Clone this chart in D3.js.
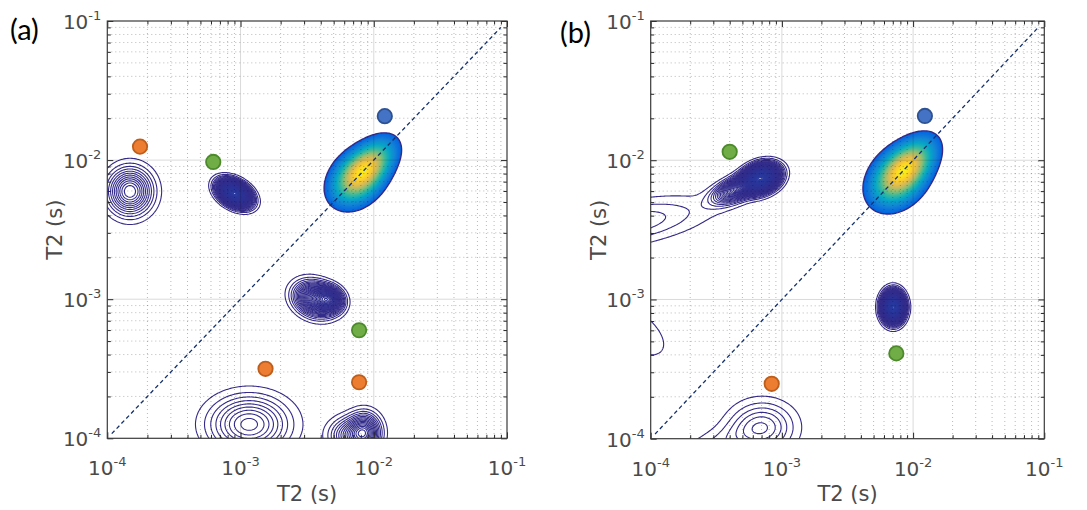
<!DOCTYPE html>
<html><head><meta charset="utf-8">
<script src="https://cdn.jsdelivr.net/npm/d3@7"></script>
<style>body{margin:0;background:#fff} svg{display:block}</style>
</head><body>
<svg id="c" width="1087" height="510"></svg>
<script>
// ---------------- data ----------------
const panelLabels = ["(a)", "(b)"];
const axisTitle = "T2 (s)";
const decadeTicks = [1e-4, 1e-3, 1e-2, 1e-1];
const tickExponents = ["-4", "-3", "-2", "-1"];
const diagonalEnds = [1.08e-4, 9e-2];

// markers: [T2 x, T2 y, colour key]
const markersA = [[1.76e-4, 1.25e-2, "orange"], [6.24e-4, 9.7e-3, "green"], [1.21e-2, 2.07e-2, "blue"],
                  [7.76e-3, 5.98e-4, "green"], [1.54e-3, 3.16e-4, "orange"], [7.76e-3, 2.53e-4, "orange"]];
const markersB = [[4.0e-4, 1.15e-2, "green"], [1.23e-2, 2.08e-2, "blue"],
                  [7.45e-3, 4.1e-4, "green"], [8.36e-4, 2.48e-4, "orange"]];

// peaks: [log10 x, log10 y, sigma major, sigma minor (decades), angle (deg), amplitude]
const mainPeakA = [
  [-2.125, -2.135, 0.120, 0.090, 42, 0.50],
  [-2.040, -2.040, 0.128, 0.074, 42, 0.56]
];
const otherPeaksA = [
  [-3.045, -2.24, 0.073, 0.045, -28, 0.060],
  [-2.44, -3.00, 0.095, 0.070, -20, 0.020],
  [-2.33, -3.00, 0.060, 0.050, -20, 0.018],
  [-3.83, -2.225, 0.105, 0.105, 0, 0.013],
  [-2.935, -3.90, 0.190, 0.130, 0, 0.0095],
  [-2.07, -3.96, 0.075, 0.085, 0, 0.014],
  [-2.20, -3.98, 0.090, 0.080, 0, 0.007]
];
const mainPeakB = [
  [-2.115, -2.13, 0.130, 0.097, 42, 0.50],
  [-2.035, -2.035, 0.132, 0.077, 42, 0.56]
];
const otherPeaksB = [
  [-3.16, -2.13, 0.078, 0.052, 18, 0.060],
  [-3.33, -2.20, 0.120, 0.048, 22, 0.018],
  [-4.20, -2.46, 0.420, 0.100, 10, 0.0040],
  [-4.12, -3.22, 0.260, 0.130, -35, 0.0016],
  [-3.15, -3.92, 0.160, 0.120, 0, 0.0058],
  [-3.50, -4.05, 0.220, 0.080, 20, 0.0022],
  [-2.152, -3.055, 0.046, 0.060, 0, 0.070]
];
const mainLevels = d3.range(0.04, 1.04, 0.0125);
const otherLevels = d3.range(0.001, 0.08, 0.001);
const parulaColors = ["#352A87", "#0363E1", "#1485D4", "#06A7C6", "#38B99E", "#92BF73", "#D9BA56", "#FCCE2E", "#F9FB0E"];
const markerColors = {orange: ["#ED7D31", "#BE5E1C"], green: ["#70AD47", "#4C8A2B"], blue: ["#4472C4", "#2D5293"]};

// ---------------- drawing ----------------
const svg = d3.select("#c");
const parula = d3.piecewise(d3.interpolateRgb, parulaColors);
const colorPos = d3.scalePow().exponent(0.62).domain([0, 1]).range([0, 1]).clamp(true);
const G0 = -4.2, G1 = -0.8, DL = 0.01, N = Math.round((G1 - G0) / DL);

function field(peaks) {
  const v = new Float64Array(N * N);
  const pk = peaks.map(([cx, cy, sa, sb, ang, amp]) => {
    const t = ang * Math.PI / 180; return [cx, cy, sa, sb, Math.cos(t), Math.sin(t), amp];
  });
  for (let j = 0; j < N; j++) {
    const ly = G1 - (j + 0.5) * DL;
    for (let i = 0; i < N; i++) {
      const lx = G0 + (i + 0.5) * DL;
      let s = 0;
      for (const [cx, cy, sa, sb, c, sn, amp] of pk) {
        const dx = lx - cx, dy = ly - cy;
        const u = (dx * c + dy * sn) / sa, w = (-dx * sn + dy * c) / sb;
        s += amp * Math.exp(-0.5 * (u * u + w * w));
      }
      v[j * N + i] = s;
    }
  }
  return v;
}

const panels = [
  {label: panelLabels[0], rect: [107.3, 21, 507, 438.3], main: mainPeakA, other: otherPeaksA, markers: markersA, lab: [10, 40], ytx: 62},
  {label: panelLabels[1], rect: [650.7, 21, 1044.3, 438.7], main: mainPeakB, other: otherPeaksB, markers: markersB, lab: [560, 43], ytx: 606}
];

panels.forEach((p, k) => {
  const [L, T, R, B] = p.rect;
  const x = d3.scaleLog().domain([1e-4, 1e-1]).range([L, R]);
  const y = d3.scaleLog().domain([1e-4, 1e-1]).range([B, T]);
  const g = svg.append("g");
  const cid = "clip" + k;
  svg.append("defs").append("clipPath").attr("id", cid)
    .append("rect").attr("x", L).attr("y", T).attr("width", R - L).attr("height", B - T);

  const proj = d3.geoTransform({point(u, v) {
    this.stream.point(x(Math.pow(10, G0 + u * DL)), y(Math.pow(10, G1 - v * DL)));
  }});
  const path = d3.geoPath(proj);
  const cg = g.append("g").attr("clip-path", `url(#${cid})`);

  // secondary peaks: dense contour lines
  const oc = d3.contours().size([N, N]).thresholds(otherLevels)(field(p.other));
  cg.append("g").selectAll("path").data(oc).join("path")
    .attr("d", path).attr("fill", "none")
    .attr("stroke", d => parula(d.value * 0.5)).attr("stroke-width", 1.1);

  // main peak: filled contours
  const mc = d3.contours().size([N, N]).thresholds(mainLevels)(field(p.main));
  cg.append("g").selectAll("path").data(mc).join("path")
    .attr("d", path).attr("fill", d => parula(colorPos(d.value)))
    .attr("stroke", (d, i) => i < 1 ? parula(0) : "none").attr("stroke-width", 1.4);

  // grid
  const minorVals = [];
  for (const e of [-4, -3, -2]) for (let m = 2; m <= 9; m++) minorVals.push(m * Math.pow(10, e));
  const grid = g.append("g");
  grid.selectAll(".mvx").data(minorVals).join("line")
    .attr("x1", d => x(d)).attr("x2", d => x(d)).attr("y1", T).attr("y2", B)
    .attr("stroke", "#000").attr("stroke-opacity", 0.28).attr("stroke-dasharray", "1,3");
  grid.selectAll(".mhy").data(minorVals).join("line")
    .attr("y1", d => y(d)).attr("y2", d => y(d)).attr("x1", L).attr("x2", R)
    .attr("stroke", "#000").attr("stroke-opacity", 0.28).attr("stroke-dasharray", "1,3");
  const inner = decadeTicks.slice(1, 3);
  grid.selectAll(".Mx").data(inner).join("line")
    .attr("x1", d => x(d)).attr("x2", d => x(d)).attr("y1", T).attr("y2", B)
    .attr("stroke", "#000").attr("stroke-opacity", 0.15);
  grid.selectAll(".My").data(inner).join("line")
    .attr("y1", d => y(d)).attr("y2", d => y(d)).attr("x1", L).attr("x2", R)
    .attr("stroke", "#000").attr("stroke-opacity", 0.15);

  // diagonal
  g.append("line")
    .attr("x1", x(diagonalEnds[0])).attr("y1", y(diagonalEnds[0]))
    .attr("x2", x(diagonalEnds[1])).attr("y2", y(diagonalEnds[1]))
    .attr("stroke", "#14306B").attr("stroke-width", 1.3).attr("stroke-dasharray", "4,3");

  // markers
  g.append("g").selectAll("circle").data(p.markers).join("circle")
    .attr("cx", d => x(d[0])).attr("cy", d => y(d[1])).attr("r", 7.2)
    .attr("fill", d => markerColors[d[2]][0]).attr("stroke", d => markerColors[d[2]][1]).attr("stroke-width", 1.8);

  // ticks (inward on all sides)
  const axes = [
    [d3.axisBottom(x), `translate(0,${B})`], [d3.axisTop(x), `translate(0,${T})`],
    [d3.axisLeft(y), `translate(${L},0)`], [d3.axisRight(y), `translate(${R},0)`]
  ];
  axes.forEach(([ax, tr]) => {
    [[decadeTicks, -6], [minorVals, -3.5]].forEach(([vals, len]) => {
      g.append("g").attr("transform", tr)
        .call(ax.tickValues(vals).tickSize(len).tickFormat(""))
        .call(s => { s.select(".domain").remove(); s.selectAll("text").remove();
                     s.selectAll("line").attr("stroke", "#262626"); });
    });
  });
  g.append("rect").attr("x", L).attr("y", T).attr("width", R - L).attr("height", B - T)
    .attr("fill", "none").attr("stroke", "#3a3a3a").attr("stroke-width", 1.2);

  // tick labels
  const font = "'DejaVu Sans', sans-serif";
  decadeTicks.forEach((v, i) => {
    const tx = g.append("text").attr("x", x(v)).attr("y", B + 37).attr("text-anchor", "middle")
      .attr("font-family", font).attr("font-size", 20).attr("fill", "#4a4a4a");
    tx.append("tspan").text("10");
    tx.append("tspan").attr("dy", -9).attr("font-size", 13).text(tickExponents[i]);
    const ty = g.append("text").attr("x", L - 6).attr("y", y(v) + 8).attr("text-anchor", "end")
      .attr("font-family", font).attr("font-size", 20).attr("fill", "#4a4a4a");
    ty.append("tspan").text("10");
    ty.append("tspan").attr("dy", -9).attr("font-size", 13).text(tickExponents[i]);
  });
  g.append("text").attr("x", (L + R) / 2).attr("y", 501).attr("text-anchor", "middle")
    .attr("font-family", font).attr("font-size", 21).attr("fill", "#4a4a4a").text(axisTitle);
  g.append("text").attr("transform", `translate(${p.ytx},${(T + B) / 2}) rotate(-90)`)
    .attr("text-anchor", "middle").attr("font-family", font).attr("font-size", 21)
    .attr("fill", "#4a4a4a").text(axisTitle);
  g.append("text").attr("x", p.lab[0]).attr("y", p.lab[1])
    .attr("font-family", "Lato, 'Open Sans', sans-serif").attr("font-size", 29).attr("fill", "#000").text(p.label);
});
</script>
</body></html>
